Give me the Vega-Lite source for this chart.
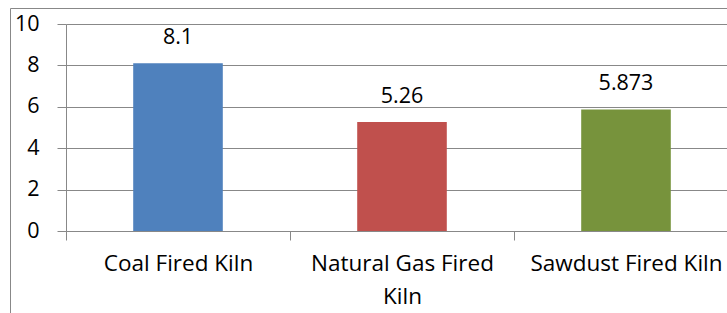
{
  "$schema": "https://vega.github.io/schema/vega-lite/v6.json",
  "width": 730,
  "height": 322,
  "autosize": {"type": "none"},
  "padding": {"left": 10, "top": 8, "right": 0, "bottom": 0},
  "background": "white",
  "config": {
    "view": {"stroke": "#888888", "strokeWidth": 1},
    "font": "Open Sans"
  },
  "data": {
    "values": [
      {"kiln": "Coal Fired Kiln", "value": 8.1},
      {"kiln": "Natural Gas Fired Kiln", "value": 5.26},
      {"kiln": "Sawdust Fired Kiln", "value": 5.873}
    ]
  },
  "encoding": {
    "x": {
      "field": "kiln",
      "type": "nominal",
      "sort": null,
      "scale": {"range": [56, 728], "paddingInner": 0.6, "paddingOuter": 0.3},
      "axis": {
        "title": null,
        "orient": "bottom",
        "offset": -99,
        "labelAngle": 0,
        "ticks": true,
        "bandPosition": 0,
        "tickOffset": -67,
        "labelOffset": 67,
        "tickExtra": true,
        "tickSize": 9,
        "tickWidth": 1,
        "tickColor": "#888888",
        "domainColor": "#888888",
        "labelFontSize": 22.5,
        "labelColor": "#000000",
        "labelPadding": 12,
        "labelLineHeight": 33,
        "labelLimit": 300,
        "labelExpr": "datum.label == 'Natural Gas Fired Kiln' ? ['Natural Gas Fired', 'Kiln'] : datum.label"
      }
    },
    "y": {
      "field": "value",
      "type": "quantitative",
      "scale": {"domain": [0, 10], "range": [223, 16], "nice": false, "zero": true},
      "axis": {
        "title": null,
        "orient": "left",
        "offset": -56,
        "values": [0, 2, 4, 6, 8, 10],
        "grid": true,
        "gridColor": "#888888",
        "tickSize": 9,
        "tickColor": "#888888",
        "domainColor": "#888888",
        "labelFontSize": 21.5,
        "labelColor": "#000000",
        "labelPadding": 18
      }
    }
  },
  "layer": [
    {
      "mark": {"type": "bar"},
      "encoding": {
        "color": {
          "field": "kiln",
          "type": "nominal",
          "scale": {"range": ["#4F81BD", "#C0504D", "#77933C"]},
          "legend": null
        }
      }
    },
    {
      "mark": {"type": "text", "baseline": "alphabetic", "dy": -19, "fontSize": 21.5, "color": "#000000"},
      "encoding": {
        "text": {"field": "value", "type": "nominal"}
      }
    }
  ]
}
